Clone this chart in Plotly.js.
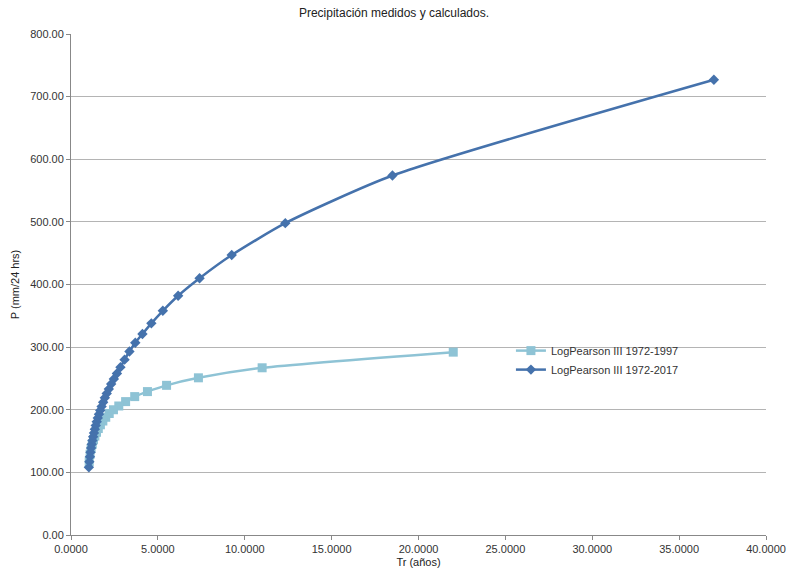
<!DOCTYPE html>
<html>
<head>
<meta charset="utf-8">
<script src="https://cdn.plot.ly/plotly-3.0.1.min.js"></script>
<style>html,body{margin:0;padding:0;background:#fff;}#chart{width:788px;height:572px;}</style>
</head>
<body>
<div id="chart"></div>
<script>
// Return periods (Tr, años) and precipitation (mm/24 hrs)
const trShort = [22.0000, 11.0000, 7.3333, 5.5000, 4.4000, 3.6667, 3.1429, 2.7500, 2.4444, 2.2000, 2.0000, 1.8333, 1.6923, 1.5714, 1.4667, 1.3750, 1.2941, 1.2222, 1.1579, 1.1000, 1.0476];
const pShort = [292, 267, 251, 239, 229, 221, 213, 206, 200, 194, 188, 182, 176, 170, 164, 158, 152, 145, 138, 129, 117];

const trLong = [37.0000, 18.5000, 12.3333, 9.2500, 7.4000, 6.1667, 5.2857, 4.6250, 4.1111, 3.7000, 3.3636, 3.0833, 2.8462, 2.6429, 2.4667, 2.3125, 2.1765, 2.0556, 1.9474, 1.8500, 1.7619, 1.6818, 1.6087, 1.5417, 1.4800, 1.4231, 1.3704, 1.3214, 1.2759, 1.2333, 1.1935, 1.1563, 1.1212, 1.0882, 1.0571, 1.0278];
const pLong = [727, 574, 498, 447, 410, 382, 358, 338, 321, 307, 293, 280, 268, 258, 249, 241, 233, 226, 219, 212, 205, 199, 193, 187, 181, 175, 169, 163, 157, 151, 145, 139, 132, 125, 117, 108];

const nameShort = "LogPearson III 1972-1997";
const nameLong = "LogPearson III 1972-2017";

const traces = [
  {x: trShort, y: pShort, name: nameShort, type: "scatter", mode: "lines+markers",
   line: {color: "#8EC3D5", width: 2.5, shape: "spline", smoothing: 0.6},
   marker: {symbol: "square", size: 9, color: "#8EC3D5"}},
  {x: trLong, y: pLong, name: nameLong, type: "scatter", mode: "lines+markers",
   line: {color: "#4572AC", width: 2.5, shape: "spline", smoothing: 0.6},
   marker: {symbol: "diamond", size: 8, color: "#4572AC"}}
];

const layout = {
  width: 788, height: 572,
  margin: {l: 71, r: 22, t: 34, b: 37},
  paper_bgcolor: "#fff", plot_bgcolor: "#fff",
  font: {family: "Liberation Sans, Arial, sans-serif", size: 11, color: "#333"},
  title: {text: "Precipitación medidos y calculados.", x: 0.5, xanchor: "center", y: 0.977, yanchor: "middle", font: {size: 12, color: "#222"}},
  showlegend: true,
  legend: {x: 0.633, y: 0.397, xanchor: "left", yanchor: "top", bgcolor: "rgba(0,0,0,0)", font: {size: 11, color: "#333"}, tracegroupgap: 0, itemwidth: 30},
  xaxis: {
    range: [0, 40], dtick: 5, tick0: 0, tickformat: ".4f",
    showgrid: false, zeroline: false,
    showline: true, linecolor: "#888", linewidth: 1,
    ticks: "outside", ticklen: 4, tickcolor: "#888",
    title: {text: "Tr (años)", font: {size: 11, color: "#222"}, standoff: 4}
  },
  yaxis: {
    range: [0, 800], dtick: 100, tick0: 0, tickformat: ".2f",
    showgrid: true, gridcolor: "#B4B4B4", gridwidth: 1, zeroline: false,
    showline: true, linecolor: "#888", linewidth: 1,
    ticks: "outside", ticklen: 4, tickcolor: "#888",
    title: {text: "P (mm/24 hrs)", font: {size: 11, color: "#222"}, standoff: 8}
  }
};

Plotly.newPlot("chart", traces, layout, {displayModeBar: false, staticPlot: true});
</script>
</body>
</html>
